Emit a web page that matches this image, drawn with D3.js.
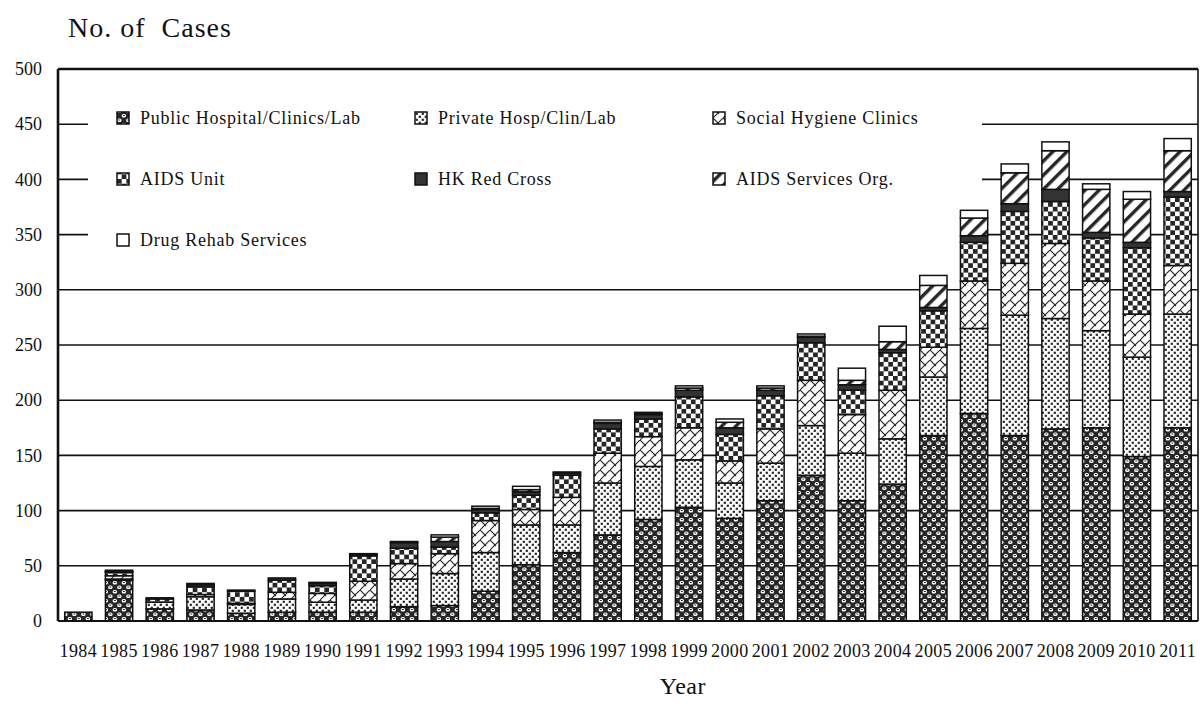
<!DOCTYPE html>
<html>
<head>
<meta charset="utf-8">
<script src="https://cdn.jsdelivr.net/npm/d3@7"></script>
<style>
  html, body { margin: 0; padding: 0; background: #fff; }
  svg { display: block; font-family: "Liberation Serif", "Times New Roman", serif; }
  text { fill: #111; }
</style>
</head>
<body>
<svg id="chart" width="1200" height="708"></svg>
<script>
// Reported cases by source of report, 1984-2011
const years = ["1984","1985","1986","1987","1988","1989","1990","1991","1992","1993","1994","1995","1996","1997",
               "1998","1999","2000","2001","2002","2003","2004","2005","2006","2007","2008","2009","2010","2011"];
const publicHosp  = [8,37,11,10,7,8,8,8,13,14,27,51,62,78,92,103,93,109,132,109,124,168,188,168,174,175,149,175];
const privateHosp = [0,1,6,12,8,12,9,11,25,29,35,36,25,47,48,43,32,34,45,43,41,53,77,109,100,88,90,103];
const socialHyg   = [0,3,0,2,1,6,8,17,14,18,29,14,25,27,27,29,20,31,41,35,44,27,43,47,68,45,39,44];
const aidsUnit    = [0,3,3,7,11,11,7,23,14,6,7,13,20,22,16,28,24,30,34,22,34,33,35,47,38,39,60,62];
const redCross    = [0,1,1,2,1,2,2,1,5,5,3,3,2,5,4,6,6,5,5,5,3,3,6,7,11,5,5,5];
const aidsOrg     = [0,0,0,0,0,0,0,0,0,4,1,2,0,1,1,2,5,2,1,4,7,20,16,28,35,39,39,37];
const drugRehab   = [0,1,0,1,0,0,1,1,1,2,2,3,1,2,1,2,3,2,2,11,14,9,7,8,8,5,7,11];

const seriesNames = ["Public Hospital/Clinics/Lab","Private Hosp/Clin/Lab","Social Hygiene Clinics",
                     "AIDS Unit","HK Red Cross","AIDS Services Org.","Drug Rehab Services"];
const seriesKeys = ["pub","priv","shc","unit","hkrc","aso","drug"];
const yTicks = [0,50,100,150,200,250,300,350,400,450,500];

const rows = years.map((y, i) => ({
  year: y, pub: publicHosp[i], priv: privateHosp[i], shc: socialHyg[i], unit: aidsUnit[i],
  hkrc: redCross[i], aso: aidsOrg[i], drug: drugRehab[i]
}));

const svg = d3.select("#chart");
const L = 58, R = 1198, T = 69, B = 621;
const INK = "#262626";

// ---- fill patterns ----
const defs = svg.append("defs");
function pat(id, w, h, transform) {
  const p = defs.append("pattern").attr("id", id).attr("patternUnits", "userSpaceOnUse")
    .attr("width", w).attr("height", h);
  if (transform) p.attr("patternTransform", transform);
  return p;
}
// public hospitals: dark weave of rounded white cells
{
  const p = pat("p-pub", 9, 9);
  p.append("rect").attr("width", 9).attr("height", 9).attr("fill", INK);
  [[0.2, 0.4], [4.7, 4.9]].forEach(([x, y]) => {
    p.append("rect").attr("x", x).attr("y", y).attr("width", 4.3).attr("height", 3.7).attr("rx", 1.6).attr("fill", "#fff");
    p.append("rect").attr("x", x + 1.2).attr("y", y + 1.1).attr("width", 1.9).attr("height", 1).attr("fill", INK);
  });
}
// private: small staggered squares
{
  const p = pat("p-priv", 6, 6);
  p.append("rect").attr("width", 6).attr("height", 6).attr("fill", "#fff");
  p.append("rect").attr("x", 0.7).attr("y", 0.7).attr("width", 2.2).attr("height", 2.2).attr("fill", INK);
  p.append("rect").attr("x", 3.7).attr("y", 3.7).attr("width", 2.2).attr("height", 2.2).attr("fill", INK);
}
// social hygiene: thin diagonal lattice
{
  const p = pat("p-shc", 10, 10);
  p.append("rect").attr("width", 10).attr("height", 10).attr("fill", "#fff");
  p.append("path").attr("d", "M-1,11 L11,-1 M0,0 L6,6").attr("stroke", INK).attr("stroke-width", 1.1).attr("fill", "none");
}
// AIDS unit: checkerboard
{
  const s = 4.7;
  const p = pat("p-unit", 2 * s, 2 * s);
  p.append("rect").attr("width", 2 * s).attr("height", 2 * s).attr("fill", "#fff");
  p.append("rect").attr("width", s).attr("height", s).attr("fill", INK);
  p.append("rect").attr("x", s).attr("y", s).attr("width", s).attr("height", s).attr("fill", INK);
}
// AIDS services org: bold forward stripes
{
  const p = pat("p-aso", 10, 10, "rotate(45)");
  p.append("rect").attr("width", 10).attr("height", 10).attr("fill", "#fff");
  p.append("rect").attr("width", 3.4).attr("height", 10).attr("fill", INK);
}
const fills = { pub: "url(#p-pub)", priv: "url(#p-priv)", shc: "url(#p-shc)", unit: "url(#p-unit)",
                hkrc: "#333", aso: "url(#p-aso)", drug: "#fff" };

// ---- scales ----
const x = d3.scaleBand().domain(years).range([L, R]).paddingInner(0.33).paddingOuter(0.165);
const y = d3.scaleLinear().domain([0, 500]).range([B, T]);

// ---- gridlines ----
svg.append("g").selectAll("line").data(yTicks.filter(v => v > 0 && v < 500)).join("line")
  .attr("x1", L).attr("x2", R).attr("y1", d => y(d)).attr("y2", d => y(d))
  .attr("stroke", "#111").attr("stroke-width", 1.6);

// legend background sits over the upper gridlines
svg.append("rect").attr("x", 88).attr("y", 88).attr("width", 982 - 88).attr("height", 182).attr("fill", "#fff");

// ---- stacked bars ----
const stack = d3.stack().keys(seriesKeys)(rows);
svg.append("g").selectAll("g").data(stack).join("g")
  .attr("fill", d => fills[d.key])
  .selectAll("rect").data(d => d.filter(s => s[1] > s[0])).join("rect")
  .attr("x", d => x(d.data.year))
  .attr("width", x.bandwidth())
  .attr("y", d => y(d[1]))
  .attr("height", d => y(d[0]) - y(d[1]))
  .attr("stroke", "#111").attr("stroke-width", 1.5);

// ---- frame ----
svg.append("line").attr("x1", L).attr("x2", R).attr("y1", T).attr("y2", T).attr("stroke", "#111").attr("stroke-width", 2.6);
svg.append("line").attr("x1", L).attr("x2", L).attr("y1", T).attr("y2", B).attr("stroke", "#111").attr("stroke-width", 2.6);
svg.append("line").attr("x1", R).attr("x2", R).attr("y1", T).attr("y2", B).attr("stroke", "#111").attr("stroke-width", 1.6);
svg.append("line").attr("x1", L).attr("x2", R).attr("y1", B).attr("y2", B).attr("stroke", "#111").attr("stroke-width", 2.2);

// ---- y axis labels ----
const yAxis = d3.axisLeft(y).tickValues(yTicks).tickSize(0).tickPadding(16);
const gy = svg.append("g").attr("transform", `translate(${L},0)`).call(yAxis);
gy.select(".domain").remove();
gy.selectAll("text").attr("font-size", 18).attr("font-family", "Liberation Serif, serif").attr("fill", "#111");

// ---- x axis labels ----
const xAxis = d3.axisBottom(x).tickSize(0).tickPadding(0);
const gx = svg.append("g").attr("transform", `translate(0,${B})`).call(xAxis);
gx.select(".domain").remove();
gx.selectAll("text").attr("font-size", 18).attr("font-family", "Liberation Serif, serif").attr("fill", "#111")
  .attr("letter-spacing", 0.4).attr("dy", null).attr("y", 36);

// ---- titles ----
svg.append("text").attr("x", 68).attr("y", 37).attr("font-size", 28).attr("letter-spacing", 1)
  .style("white-space", "pre").text("No. of  Cases");
svg.append("text").attr("x", 706).attr("y", 694).attr("text-anchor", "end").attr("font-size", 24)
  .attr("letter-spacing", 0.5).text("Year");

// ---- legend ----
const legCols = [117, 415, 713];
const legRows = [118, 179, 240];
const leg = svg.append("g").selectAll("g").data(seriesKeys).join("g")
  .attr("transform", (d, i) => `translate(${legCols[i % 3]},${legRows[Math.floor(i / 3)]})`);
leg.append("rect").attr("x", 0).attr("y", -6).attr("width", 12).attr("height", 12)
  .attr("fill", d => fills[d]).attr("stroke", "#111").attr("stroke-width", 1.5);
leg.append("text").attr("x", 23).attr("y", 0).attr("dy", "0.35em").attr("font-size", 18)
  .attr("letter-spacing", 0.75).text((d, i) => seriesNames[i]);
</script>
</body>
</html>
